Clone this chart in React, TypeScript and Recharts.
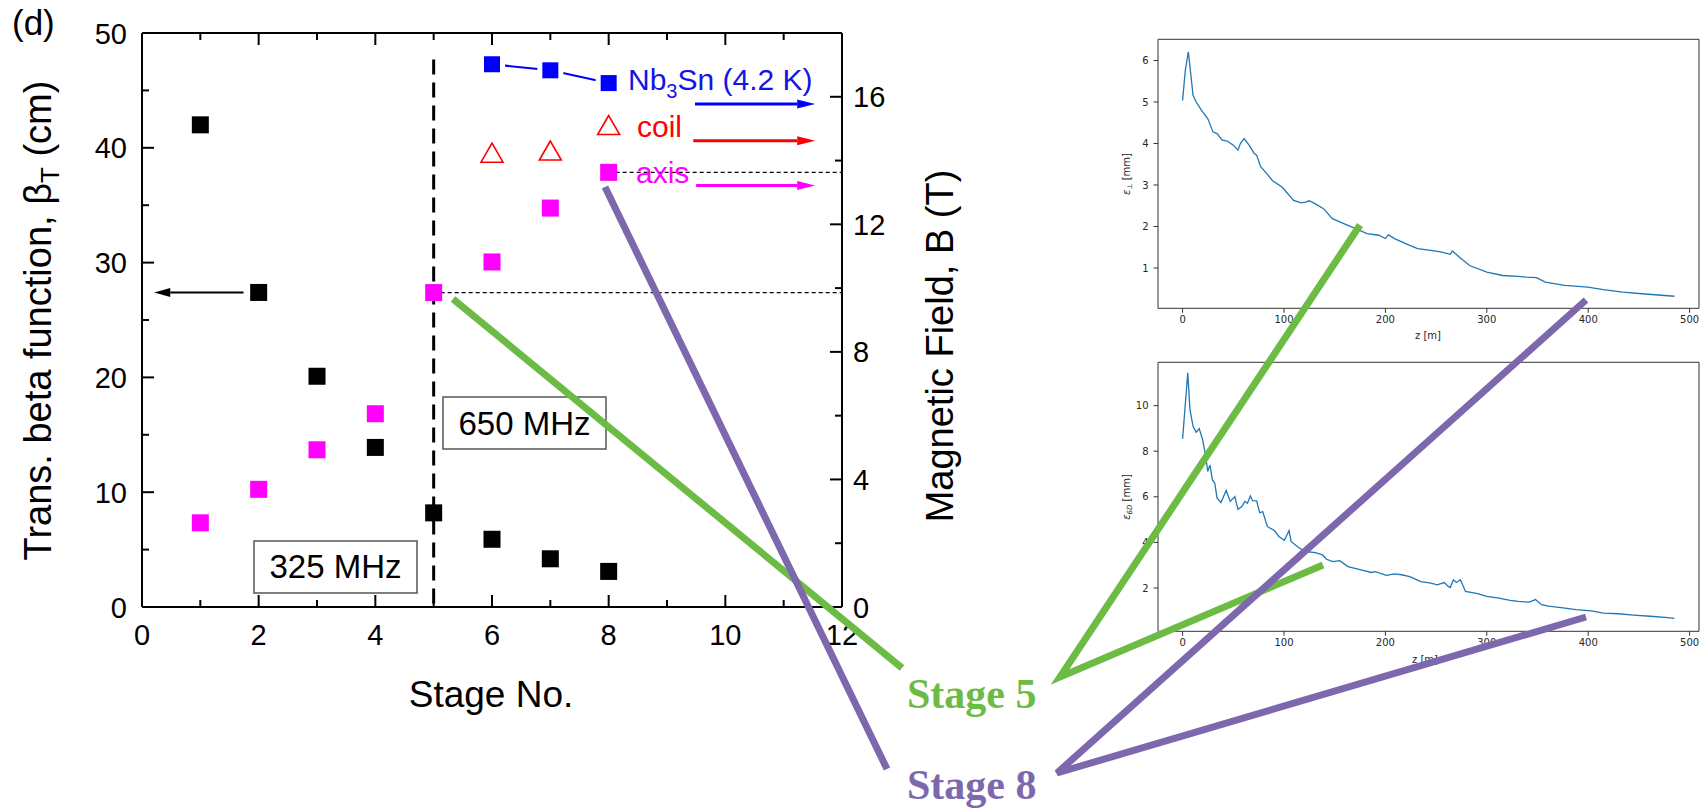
import React from 'react';
import { ComposedChart, Scatter, XAxis, YAxis, ReferenceLine, LineChart, Line } from 'recharts';

// main panel: stage-by-stage cooling channel parameters
const stages = [1, 2, 3, 4, 5, 6, 7, 8];
const betaT = [42.0, 27.4, 20.1, 13.9, 8.2, 5.9, 4.2, 3.1]; // cm, left axis
const axisField = [2.64, 3.69, 4.93, 6.06, 9.86, 10.82, 12.51, 13.63]; // T, right axis
const coilStages = [6, 7, 8];
const coilField = [14.23, 14.3, 15.1];
const nbStages = [6, 7, 8];
const nbField = [17.02, 16.83, 16.43];

const stageTicks = [0, 1, 2, 3, 4, 5, 6, 7, 8, 9, 10, 11, 12];
const betaTicks = [0, 5, 10, 15, 20, 25, 30, 35, 40, 45, 50];
const fieldTicks = [0, 2, 4, 6, 8, 10, 12, 14, 16];
const splitStage = 5;

// small panels: emittance along the channel
const zPerp = [0, 2.7, 5.7, 10.3, 13.4, 18.7, 24.8, 30, 34, 39, 44, 50, 54.6, 57, 60.7, 65.6, 70.6, 73, 77, 82.8, 88.5, 98, 109.5, 117, 121, 125, 130.5, 139, 147.7, 159, 170.6, 182, 193.5, 200, 203, 209, 220, 231.7, 243, 254.6, 264, 266, 273.7, 283, 300, 315.6, 331, 338.5, 349, 357.6, 376.7, 399.6, 415, 434, 453, 485];
const epsPerp = [5.04, 5.77, 6.21, 5.16, 5.0, 4.8, 4.6, 4.28, 4.24, 4.08, 4.06, 3.96, 3.84, 4.0, 4.12, 3.96, 3.76, 3.72, 3.44, 3.28, 3.11, 2.95, 2.63, 2.57, 2.59, 2.62, 2.55, 2.43, 2.19, 2.07, 1.95, 1.83, 1.79, 1.71, 1.8, 1.71, 1.59, 1.47, 1.43, 1.39, 1.33, 1.41, 1.25, 1.06, 0.9, 0.82, 0.8, 0.78, 0.77, 0.66, 0.58, 0.54, 0.48, 0.42, 0.38, 0.32];
const z6D = [0, 5.1, 7.3, 10.3, 13.4, 16.4, 19.8, 22.5, 24.8, 27, 29.4, 31.7, 34, 37.8, 43, 47, 51.5, 54.6, 58.4, 61.5, 64, 66.8, 69, 73, 76, 79, 83.6, 90.5, 95, 100.4, 105, 107, 114, 121, 131, 138, 142, 148, 155, 163, 178, 186, 190, 201, 209, 216, 224, 235, 245, 251, 258, 262, 264, 267, 270, 274, 279, 291, 300, 312, 323, 331, 342, 348, 354, 361, 377, 388, 403, 415, 430, 445, 461, 476, 485];
const eps6D = [8.54, 11.44, 9.82, 9.09, 8.83, 8.99, 8.5, 7.85, 7.11, 7.4, 6.74, 6.6, 5.94, 5.75, 6.28, 5.8, 6.01, 5.45, 5.57, 5.8, 5.72, 6.04, 5.83, 5.82, 5.3, 5.35, 4.7, 4.52, 4.26, 4.09, 4.52, 4.04, 3.79, 3.6, 3.55, 3.45, 3.26, 3.16, 3.2, 2.94, 2.77, 2.68, 2.72, 2.55, 2.62, 2.58, 2.5, 2.28, 2.21, 2.14, 2.24, 2.07, 2.02, 2.36, 2.24, 2.36, 1.85, 1.75, 1.63, 1.56, 1.46, 1.41, 1.38, 1.49, 1.27, 1.2, 1.12, 1.05, 1.0, 0.9, 0.87, 0.81, 0.76, 0.71, 0.67];
const zTicks = [0, 100, 200, 300, 400, 500];
const perpTicks = [1, 2, 3, 4, 5, 6];
const sixDTicks = [2, 4, 6, 8, 10];

const SANS = '"Liberation Sans", Arial, sans-serif';
const MPL = '"DejaVu Sans", sans-serif';
const BLUE = '#0000ff';
const RED = '#ff0000';
const MAGENTA = '#ff00ff';
const GREEN = '#6cbb45';
const PURPLE = '#7d68ae';

const pts = (xs: number[], ys: number[]) => xs.map((x, i) => ({ stage: x, v: ys[i] }));
const zpts = (xs: number[], ys: number[]) => xs.map((x, i) => ({ z: x, e: ys[i] }));

const bottomTick = (p: any) => {
  const major = p.payload.value % 2 === 0;
  return (
    <g>
      <line x1={p.x} x2={p.x} y1={p.y} y2={p.y - (major ? 12 : 7)} stroke="#000" strokeWidth={2} />
      {major && (
        <text x={p.x} y={p.y + 38} textAnchor="middle" fontSize={29} fontFamily={SANS} fill="#000">
          {p.payload.value}
        </text>
      )}
    </g>
  );
};

const topTick = (p: any) => {
  const major = p.payload.value % 2 === 0;
  return <line x1={p.x} x2={p.x} y1={p.y} y2={p.y + (major ? 12 : 7)} stroke="#000" strokeWidth={2} />;
};

const leftTick = (p: any) => {
  const major = p.payload.value % 10 === 0;
  return (
    <g>
      <line x1={p.x} x2={p.x + (major ? 12 : 7)} y1={p.y} y2={p.y} stroke="#000" strokeWidth={2} />
      {major && (
        <text x={p.x - 15} y={p.y + 10.5} textAnchor="end" fontSize={29} fontFamily={SANS} fill="#000">
          {p.payload.value}
        </text>
      )}
    </g>
  );
};

const rightTick = (p: any) => {
  const major = p.payload.value % 4 === 0;
  return (
    <g>
      <line x1={p.x} x2={p.x - (major ? 12 : 7)} y1={p.y} y2={p.y} stroke="#000" strokeWidth={2} />
      {major && (
        <text x={p.x + 11} y={p.y + 10.5} textAnchor="start" fontSize={29} fontFamily={SANS} fill="#000">
          {p.payload.value}
        </text>
      )}
    </g>
  );
};

const square = (color: string, size: number) => (p: any) => (
  <rect x={p.cx - size / 2} y={p.cy - size / 2} width={size} height={size} fill={color} />
);

// blue squares get a white halo so the joining line stops short of them
const haloSquare = (p: any) => (
  <g>
    <rect x={p.cx - 13} y={p.cy - 13} width={26} height={26} fill="#fff" />
    <rect x={p.cx - 8} y={p.cy - 8} width={16} height={16} fill={BLUE} />
  </g>
);

const openTriangle = (p: any) => (
  <polygon
    points={`${p.cx},${p.cy - 10} ${p.cx - 11},${p.cy + 9} ${p.cx + 11},${p.cy + 9}`}
    fill="none"
    stroke={RED}
    strokeWidth={1.6}
  />
);

const arrowShape = (color: string, width: number, headLen: number, headHalf: number) => (p: any) => {
  const { x1, y1, x2, y2 } = p;
  const dx = x2 - x1;
  const dy = y2 - y1;
  const len = Math.hypot(dx, dy) || 1;
  const ux = dx / len;
  const uy = dy / len;
  const bx = x2 - ux * headLen;
  const by = y2 - uy * headLen;
  return (
    <g>
      <line x1={x1} y1={y1} x2={bx} y2={by} stroke={color} strokeWidth={width} />
      <polygon
        points={`${x2},${y2} ${bx - uy * headHalf},${by + ux * headHalf} ${bx + uy * headHalf},${by - ux * headHalf}`}
        fill={color}
      />
    </g>
  );
};

// annotation arrows (stage units / field units)
const betaArrow = { from: 1.74, to: 0.21 };
const fieldArrows = [
  { from: 9.48, to: 11.54, y: 15.77, color: BLUE },
  { from: 9.45, to: 11.54, y: 14.62, color: RED },
  { from: 9.5, to: 11.54, y: 13.22, color: MAGENTA },
];

const MainChart = () => (
  <div style={{ position: 'absolute', left: 0, top: 0 }}>
    <ComposedChart width={1000} height={808} margin={{ top: 32, right: 157, bottom: 200, left: 141 }}>
      <XAxis xAxisId="b" dataKey="stage" type="number" domain={[0, 12]} ticks={stageTicks} interval={0}
        height={1} tickSize={0} tickMargin={0} tickLine={false} axisLine={{ stroke: '#000', strokeWidth: 2 }}
        tick={bottomTick} allowDataOverflow />
      <XAxis xAxisId="t" orientation="top" dataKey="stage" type="number" domain={[0, 12]} ticks={stageTicks}
        interval={0} height={1} tickSize={0} tickMargin={0} tickLine={false}
        axisLine={{ stroke: '#000', strokeWidth: 2 }} tick={topTick} allowDataOverflow />
      <YAxis yAxisId="l" type="number" domain={[0, 50]} ticks={betaTicks} interval={0} width={1}
        tickSize={0} tickMargin={0} tickLine={false} axisLine={{ stroke: '#000', strokeWidth: 2 }}
        tick={leftTick} allowDataOverflow />
      <YAxis yAxisId="r" orientation="right" type="number" domain={[0, 18]} ticks={fieldTicks} interval={0}
        width={1} tickSize={0} tickMargin={0} tickLine={false} axisLine={{ stroke: '#000', strokeWidth: 2 }}
        tick={rightTick} allowDataOverflow />

      <Scatter xAxisId="b" yAxisId="l" data={pts(stages, betaT)} dataKey="v" shape={square('#000', 17)}
        isAnimationActive={false} />
      <Scatter xAxisId="b" yAxisId="r" data={pts(stages, axisField)} dataKey="v" shape={square(MAGENTA, 17)}
        isAnimationActive={false} />
      <Scatter xAxisId="b" yAxisId="r" data={pts(coilStages, coilField)} dataKey="v" shape={openTriangle}
        isAnimationActive={false} />
      <Scatter xAxisId="b" yAxisId="r" data={pts(nbStages, nbField)} dataKey="v" shape={haloSquare}
        line={{ stroke: BLUE, strokeWidth: 2 }} lineType="joint" isAnimationActive={false} />

      <ReferenceLine xAxisId="b" yAxisId="l" segment={[{ x: splitStage, y: 47.7 }, { x: splitStage, y: 0 }]}
        stroke="#000" strokeWidth={3} strokeDasharray="15 8" />
      <ReferenceLine xAxisId="b" yAxisId="r"
        segment={[{ x: stages[4], y: axisField[4] }, { x: 12, y: axisField[4] }]}
        stroke="#000" strokeWidth={1.2} strokeDasharray="4 3" />
      <ReferenceLine xAxisId="b" yAxisId="r"
        segment={[{ x: stages[7], y: axisField[7] }, { x: 12, y: axisField[7] }]}
        stroke="#000" strokeWidth={1.2} strokeDasharray="4 3" />
      <ReferenceLine xAxisId="b" yAxisId="l"
        segment={[{ x: betaArrow.from, y: betaT[1] }, { x: betaArrow.to, y: betaT[1] }]}
        shape={arrowShape('#000', 2, 16, 4.5)} />
      {fieldArrows.map((a) => (
        <ReferenceLine key={a.color} xAxisId="b" yAxisId="r"
          segment={[{ x: a.from, y: a.y }, { x: a.to, y: a.y }]}
          shape={arrowShape(a.color, 3, 18, 4.5)} />
      ))}
    </ComposedChart>
  </div>
);

interface EmitProps {
  top: number;
  data: { z: number; e: number }[];
  domain: [number, number];
  ticks: number[];
}

const EmitPlot = ({ top, data, domain, ticks }: EmitProps) => (
  <div style={{ position: 'absolute', left: 1100, top }}>
    <LineChart width={607} height={340} data={data} margin={{ top: 18.3, right: 7, bottom: 50.7, left: 57 }}>
      <XAxis dataKey="z" type="number" domain={[-24.25, 509.25]} ticks={zTicks} interval={0} height={1}
        tickSize={4.5} tickMargin={3} axisLine={{ stroke: '#333', strokeWidth: 1 }}
        tickLine={{ stroke: '#333' }} tick={{ fontSize: 10, fill: '#262626', fontFamily: MPL }} allowDataOverflow />
      <XAxis xAxisId="t" orientation="top" dataKey="z" type="number" domain={[-24.25, 509.25]} height={1}
        tick={false} tickLine={false} axisLine={{ stroke: '#333', strokeWidth: 1 }} allowDataOverflow />
      <YAxis type="number" domain={domain} ticks={ticks} interval={0} width={1} tickSize={4.5} tickMargin={5}
        axisLine={{ stroke: '#333', strokeWidth: 1 }} tickLine={{ stroke: '#333' }}
        tick={{ fontSize: 10, fill: '#262626', fontFamily: MPL }} allowDataOverflow />
      <YAxis yAxisId="r" orientation="right" type="number" domain={domain} width={1} tick={false}
        tickLine={false} axisLine={{ stroke: '#333', strokeWidth: 1 }} allowDataOverflow />
      <Line type="linear" dataKey="e" stroke="#1f77b4" strokeWidth={1.3} dot={false} isAnimationActive={false} />
    </LineChart>
  </div>
);

const Overlay = () => (
  <svg width={1707} height={808} style={{ position: 'absolute', left: 0, top: 0, pointerEvents: 'none' }}>
    <text x={12} y={35} fontSize={35} fontFamily={SANS} fill="#000">(d)</text>
    <text transform="translate(51,320.5) rotate(-90)" textAnchor="middle" fontSize={38} fontFamily={SANS} fill="#000">
      Trans. beta function, β<tspan fontSize={26} dy={8}>T</tspan><tspan dy={-8}> (cm)</tspan>
    </text>
    <text transform="translate(953,346) rotate(-90)" textAnchor="middle" fontSize={38} fontFamily={SANS} fill="#000">
      Magnetic Field, B (T)
    </text>
    <text x={491} y={707} textAnchor="middle" fontSize={37} fontFamily={SANS} fill="#000">Stage No.</text>

    <rect x={254} y={541} width={163} height={52} fill="#fff" stroke="#555" strokeWidth={1.5} />
    <text x={335.5} y={578} textAnchor="middle" fontSize={33} fontFamily={SANS} fill="#000">325 MHz</text>
    <rect x={443} y={397} width={163} height={52} fill="#fff" stroke="#555" strokeWidth={1.5} />
    <text x={524.5} y={435} textAnchor="middle" fontSize={33} fontFamily={SANS} fill="#000">650 MHz</text>

    <text x={628} y={90} fontSize={30} fontFamily={SANS} fill="#1414e6">
      Nb<tspan fontSize={20} dy={8}>3</tspan><tspan dy={-8}>Sn (4.2 K)</tspan>
    </text>
    <text x={637} y={137} fontSize={30} fontFamily={SANS} fill={RED}>coil</text>
    <text x={636} y={183} fontSize={30} fontFamily={SANS} fill={MAGENTA}>axis</text>

    <text transform="translate(1130,174) rotate(-90)" textAnchor="middle" fontSize={10} fontFamily={MPL} fill="#262626">
      <tspan fontStyle="italic">ε</tspan><tspan fontSize={7} dy={2}>⊥</tspan><tspan dy={-2}> [mm]</tspan>
    </text>
    <text x={1428} y={339} textAnchor="middle" fontSize={10} fontFamily={MPL} fill="#262626">z [m]</text>
    <text transform="translate(1130,497) rotate(-90)" textAnchor="middle" fontSize={10} fontFamily={MPL} fill="#262626">
      <tspan fontStyle="italic">ε</tspan><tspan fontSize={7} dy={2} fontStyle="italic">6D</tspan><tspan dy={-2}> [mm]</tspan>
    </text>
    <text x={1425} y={663} textAnchor="middle" fontSize={10} fontFamily={MPL} fill="#262626">z [m]</text>

    <g strokeWidth={7} fill="none">
      <line x1={453} y1={299} x2={902} y2={668} stroke={GREEN} />
      <polyline points="1360,225 1060,677 1323,565" stroke={GREEN} />
      <line x1={605} y1={187} x2={887} y2={769} stroke={PURPLE} />
      <polyline points="1586,300 1057,773 1586,617" stroke={PURPLE} />
    </g>
    <text x={907} y={708} fontSize={42} fontWeight="bold" fontFamily='"Liberation Serif", serif' fill={GREEN}>Stage 5</text>
    <text x={907} y={799} fontSize={42} fontWeight="bold" fontFamily='"Liberation Serif", serif' fill={PURPLE}>Stage 8</text>
  </svg>
);

export default function App() {
  return (
    <div style={{ position: 'absolute', left: 0, top: 0, width: 1707, height: 808, background: '#fff', overflow: 'hidden' }}>
      <MainChart />
      <EmitPlot top={20} data={zpts(zPerp, epsPerp)} domain={[0.03, 6.51]} ticks={perpTicks} />
      <EmitPlot top={343.4} data={zpts(z6D, eps6D)} domain={[0.1, 11.9]} ticks={sixDTicks} />
      <Overlay />
    </div>
  );
}
